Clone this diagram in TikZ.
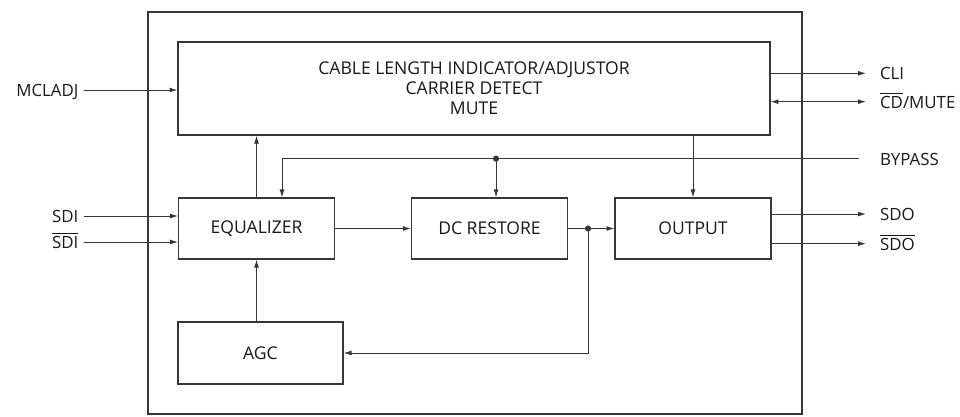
\documentclass[tikz,border=0pt]{standalone}
\usepackage{fontspec}
\setmainfont{Open Sans}
\usepackage{xcolor}
\usepackage{tikz}
\definecolor{wiregray}{RGB}{55, 55, 55}
\usetikzlibrary{arrows.meta, positioning, calc}
\newcommand{\ovl}[1]{$\overline{\mbox{#1}}$}

\begin{document}
\begin{tikzpicture}[
    x=0.02cm, y=-0.02cm,
    block/.style={rectangle, draw=wiregray, line width=0.7pt, inner sep=0pt, minimum width=3.12cm, minimum height=1.22cm,
                  align=center, font=\fontsize{10}{11.4}\selectfont, text=black!90},
    pin/.style={inner sep=3pt, text height=1.35ex, text depth=0pt, font=\fontsize{9.6}{11}\selectfont, text=black!90},
    pinr/.style={pin, anchor=west, outer sep=5pt},
    wire/.style={draw=wiregray, line width=0.55pt},
    sig/.style={wire, -{Latex[length=4.5pt, width=2.8pt]}},
    dot/.style={circle, fill=wiregray, inner sep=0pt, minimum size=3.5pt}
]
    \useasboundingbox (0,0) rectangle (960,416);
    \draw[wiregray, line width=0.7pt] (148,12) rectangle (802,414);

    \node[block, minimum width=11.84cm, minimum height=1.86cm] (cli) at (474,88.5) {CABLE LENGTH INDICATOR/ADJUSTOR\\CARRIER DETECT\\MUTE};
    \node[block] (eq) at (256.5,228.5) {EQUALIZER};
    \node[block] (dc) at (489.5,228.5) {DC RESTORE};
    \node[block] (out) at (693,228.5) {OUTPUT};
    \node[block, minimum width=3.3cm, minimum height=1.24cm] (agc) at (260.5,353) {AGC};

    \node[pin, anchor=east] (mcladj) at (84,90) {MCLADJ};
    \node[pin, anchor=east] (sdi) at (84,216) {SDI};
    \node[pin, anchor=east] (sdin) at (84,242) {\ovl{SDI}};
    \node[pinr] (cliout) at (866,73.3) {CLI};
    \node[pinr] (cdmute) at (866,101.7) {\ovl{CD}/MUTE};
    \node[pinr] (bypass) at (866,158.7) {BYPASS};
    \node[pinr] (sdo) at (866,214) {SDO};
    \node[pinr] (sdon) at (866,243.7) {\ovl{SDO}};

    \coordinate (bj) at (496,158.7);
    \coordinate (fb) at (588,228.5);

    \draw[sig] (mcladj.east) -- (mcladj.east -| cli.west);
    \draw[sig] (sdi.east) -- (sdi.east -| eq.west);
    \draw[sig] (sdin.east) -- (sdin.east -| eq.west);
    \draw[sig] (eq.north) -- (eq.north |- cli.south);
    \draw[sig] (eq.south |- agc.north) -- (eq.south);
    \draw[sig] (eq.east) -- (dc.west);
    \draw[sig] (dc.east) -- (out.west);
    \draw[sig] (cli.south -| out.north) -- (out.north);
    \draw[sig, shorten <=4pt] (bypass.west) -| ($(eq.north)+(25.5,0)$);
    \draw[sig] (bj) -- (bj |- dc.north);
    \draw[sig] (fb) |- (agc.east);
    \node[dot] at (bj) {};
    \node[dot] at (fb) {};

    \draw[sig] (cliout.west -| cli.east) -- (cliout.west);
    \draw[wire, {Latex[length=4.5pt, width=2.8pt]}-{Latex[length=4.5pt, width=2.8pt]}] (cdmute.west -| cli.east) -- (cdmute.west);
    \draw[sig] (sdo.west -| out.east) -- (sdo.west);
    \draw[sig] (sdon.west -| out.east) -- (sdon.west);
\end{tikzpicture}
\end{document}
